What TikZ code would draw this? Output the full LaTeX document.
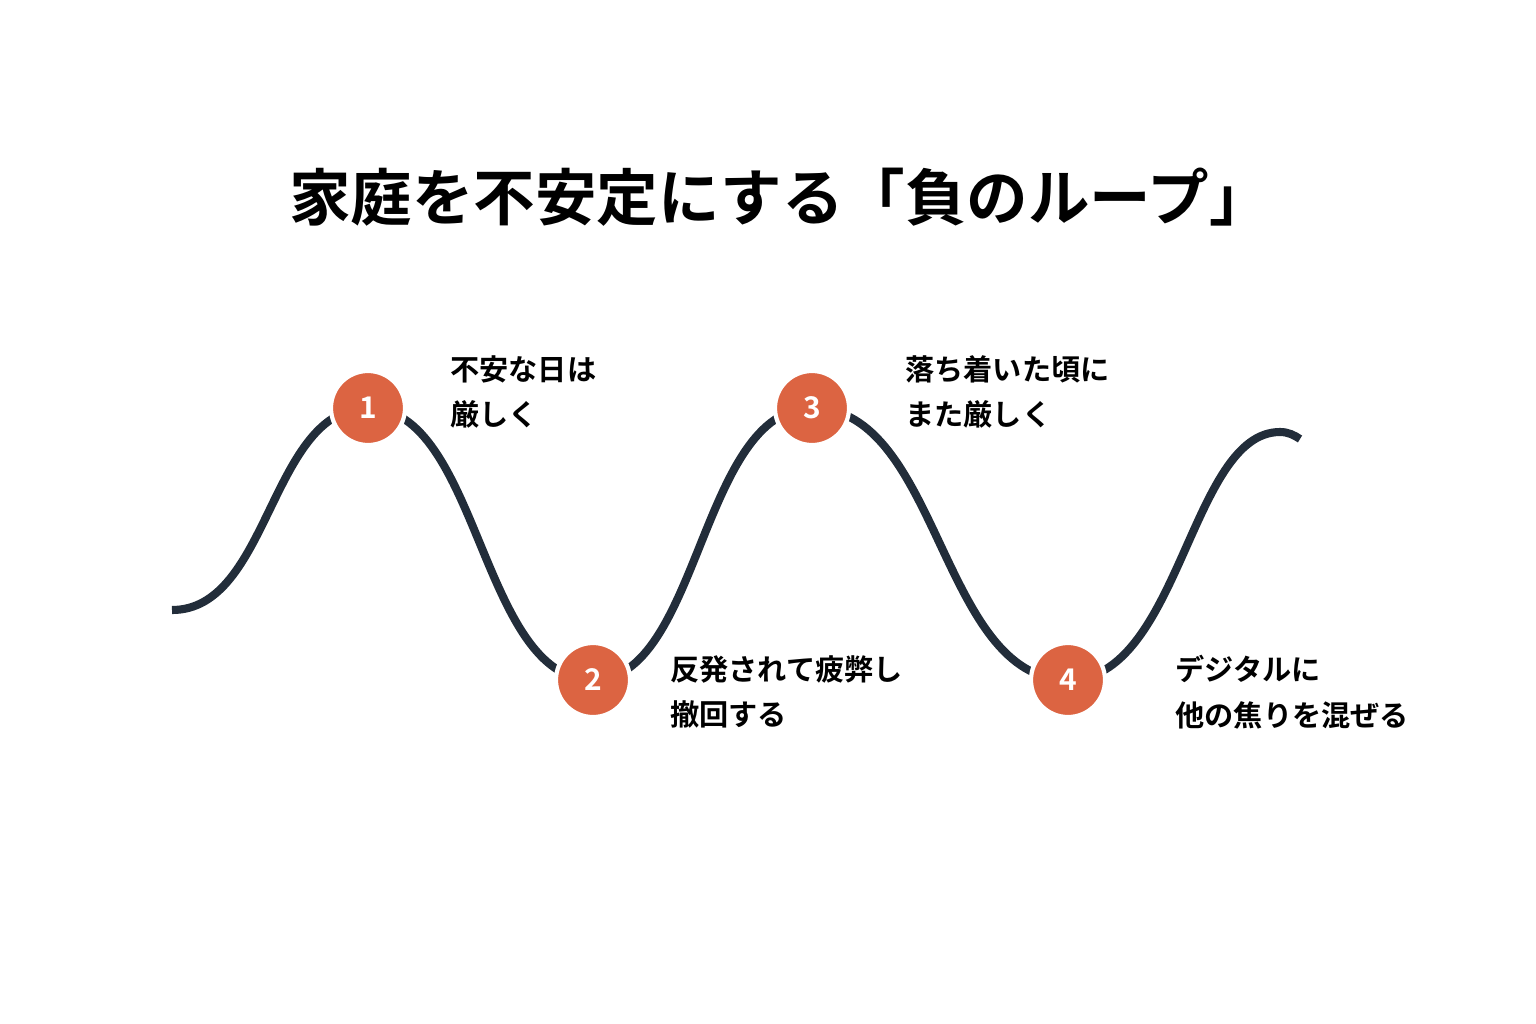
\documentclass[tikz,border=0pt]{standalone}
\usepackage{fontspec}
\setmainfont{Noto Sans CJK JP}[BoldFont={* Bold}]
\definecolor{wave}{HTML}{222D3A}
\definecolor{dot}{HTML}{DC6442}
\tikzset{
  step dot/.style={circle,fill=dot,draw=white,line width=1.2pt,minimum size=0.74cm,inner sep=0pt,
    text=white,font=\bfseries\fontsize{8.5}{10}\selectfont},
  step text/.style={anchor=west,align=left,font=\bfseries\fontsize{8.3}{13}\selectfont}
}
\begin{document}
\begin{tikzpicture}[x=0.01cm,y=-0.01cm]
      \useasboundingbox (0,0) rectangle (1536,1024);
      \node[font=\bfseries\fontsize{17.5}{20}\selectfont] (title) at (780,197) {家庭を不安定にする「負のループ」};
      % the wave
      \coordinate (s) at (172,610);
      \coordinate (p1) at (368,408);
      \coordinate (t1) at (593,680);
      \coordinate (p2) at (812,408);
      \coordinate (t2) at (1068,680);
      \coordinate (p3) at (1280,432);
      \coordinate (e) at (1300,439);
      \draw[wave,line width=2.3pt]
        (s) .. controls (270,610) and (270,408) .. (p1)
        .. controls (480,408) and (480,680) .. (t1)
        .. controls (700,680) and (700,408) .. (p2)
        .. controls (940,408) and (940,680) .. (t2)
        .. controls (1180,680) and (1190,432) .. (p3)
        .. controls (1288,432) and (1294,435) .. (e);
      % steps
      \node[step dot] (n1) at (p1) {1};
      \node[step dot] (n2) at (t1) {2};
      \node[step dot] (n3) at (p2) {3};
      \node[step dot] (n4) at (t2) {4};
      \node[step text] (l1) at (438,392) {不安な日は\\厳しく};
      \node[step text] (l2) at (658,692) {反発されて疲弊し\\撤回する};
      \node[step text] (l3) at (893,392) {落ち着いた頃に\\また厳しく};
      \node[step text] (l4) at (1163,692) {デジタルに\\他の焦りを混ぜる};
\end{tikzpicture}
\end{document}
